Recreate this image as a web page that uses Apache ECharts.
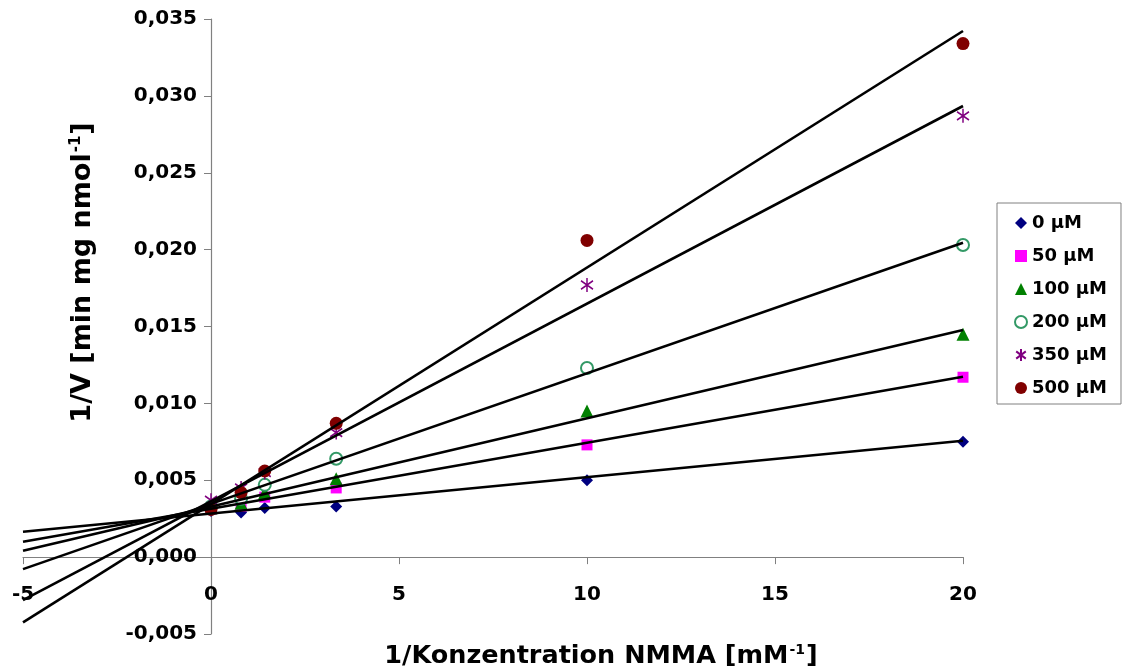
<!DOCTYPE html>
<html>
<head>
<meta charset="utf-8">
<script src="https://cdn.jsdelivr.net/npm/echarts@6/dist/echarts.min.js"></script>
<style>
html,body{margin:0;padding:0;background:#fff;}
#chart{width:1125px;height:672px;}
</style>
</head>
<body>
<div id="chart"></div>
<script>
// ---- data ----
var xValues = [0, 0.8, 1.43, 3.33, 10, 20];
var seriesNames = ['0 µM', '50 µM', '100 µM', '200 µM', '350 µM', '500 µM'];
var s0   = [0.0030, 0.0029, 0.0032, 0.0033, 0.0050, 0.0075];
var s50  = [0.0031, 0.0033, 0.0039, 0.0045, 0.0073, 0.0117];
var s100 = [0.0032, 0.0035, 0.0042, 0.0051, 0.0095, 0.0145];
var s200 = [0.0033, 0.0038, 0.0047, 0.0064, 0.0123, 0.0203];
var s350 = [0.0037, 0.0045, 0.0055, 0.0081, 0.0177, 0.0287];
var s500 = [0.0031, 0.0042, 0.0056, 0.0087, 0.0206, 0.0334];
// trend line end points (at x = -5 and x = 20)
var trendX = [-5, 20];
var trendStart = [0.00165, 0.00100, 0.00041, -0.00078, -0.00280, -0.00425];
var trendEnd   = [0.00757, 0.01173, 0.01477, 0.02045, 0.02934, 0.03422];
var xTicks = {min: -5, max: 20, interval: 5};
var yTicks = {min: -0.005, max: 0.035, interval: 0.005};

var allValues = [s0, s50, s100, s200, s350, s500];
var colors = ['#000080', '#FF00FF', '#008000', '#339966', '#800080', '#800000'];
var symbols = ['diamond', 'rect', 'triangle', 'emptyCircle',
  'path://M8,0 L8,20 M0,4 L16,16 M0,16 L16,4', 'circle'];
var sizes = [12, 11, 13, 12, [12, 14], 13];

var FONT = 'DejaVu Sans';
var series = [];
allValues.forEach(function (vals, i) {
  var item = {color: colors[i], opacity: 1};
  if (i === 3) { item.borderColor = colors[i]; item.borderWidth = 1.3; }
  if (i === 4) { item.borderColor = colors[i]; item.borderWidth = 1.6; }
  series.push({
    name: seriesNames[i],
    type: 'scatter',
    symbol: symbols[i],
    symbolSize: sizes[i],
    itemStyle: item,
    emphasis: {disabled: true},
    z: 2,
    data: xValues.map(function (x, j) { return [x, vals[j]]; })
  });
});
trendStart.forEach(function (v, i) {
  series.push({
    name: 'Trend ' + seriesNames[i],
    type: 'line',
    showSymbol: false,
    symbol: 'none',
    silent: true,
    z: 5,
    lineStyle: {color: '#000', width: 2.6, opacity: 1},
    data: [[trendX[0], v], [trendX[1], trendEnd[i]]]
  });
});

var chart = echarts.init(document.getElementById('chart'), null, {renderer: 'canvas'});
chart.setOption({
  animation: false,
  backgroundColor: '#fff',
  grid: {left: 23, right: 162, top: 19, bottom: 38, containLabel: false, outerBoundsMode: 'none'},
  legend: {
    data: seriesNames,
    orient: 'vertical',
    left: 997,
    top: 203,
    padding: [10, 14, 6, 17],
    itemGap: 13,
    itemWidth: 12,
    itemHeight: 12,
    borderColor: '#808080',
    borderWidth: 1,
    backgroundColor: '#fff',
    textStyle: {fontFamily: FONT, fontWeight: 'bold', fontSize: 18, color: '#000', lineHeight: 20}
  },
  xAxis: {
    type: 'value',
    min: xTicks.min, max: xTicks.max, interval: xTicks.interval,
    axisLine: {onZero: true, lineStyle: {color: '#808080', width: 1.2}},
    axisTick: {show: true, inside: false, length: 7, lineStyle: {color: '#808080'}},
    splitLine: {show: false},
    axisLabel: {margin: -49, fontFamily: FONT, fontWeight: 'bold', fontSize: 20, color: '#000',
      formatter: function (v) { return String(v); }},
    name: '{n|1/Konzentration NMMA [mM}{s|-1}{n|]}',
    nameLocation: 'middle',
    nameGap: 9,
    nameTextStyle: {
      padding: [0, 0, 0, 216],
      rich: {
        n: {fontFamily: FONT, fontWeight: 'bold', fontSize: 25.5, color: '#000'},
        s: {fontFamily: FONT, fontWeight: 'bold', fontSize: 14, color: '#000', verticalAlign: 'top', padding: [0, 1, 12, 1]}
      }
    }
  },
  yAxis: {
    type: 'value',
    min: yTicks.min, max: yTicks.max, interval: yTicks.interval,
    axisLine: {onZero: true, lineStyle: {color: '#808080', width: 1.2}},
    axisTick: {show: true, inside: false, length: 7, lineStyle: {color: '#808080'}},
    splitLine: {show: false},
    axisLabel: {margin: -174, fontFamily: FONT, fontWeight: 'bold', fontSize: 20, color: '#000',
      formatter: function (v) { return v.toFixed(3).replace('.', ','); }},
    name: '{n|1/V [min mg nmol}{s|-1}{n|]}',
    nameLocation: 'middle',
    nameGap: -73,
    nameRotate: 90,
    nameTextStyle: {
      padding: [0, 0, 0, 108],
      rich: {
        n: {fontFamily: FONT, fontWeight: 'bold', fontSize: 27, color: '#000'},
        s: {fontFamily: FONT, fontWeight: 'bold', fontSize: 15, color: '#000', verticalAlign: 'top', padding: [0, 1, 12, 1]}
      }
    }
  },
  series: series
});
</script>
</body>
</html>
